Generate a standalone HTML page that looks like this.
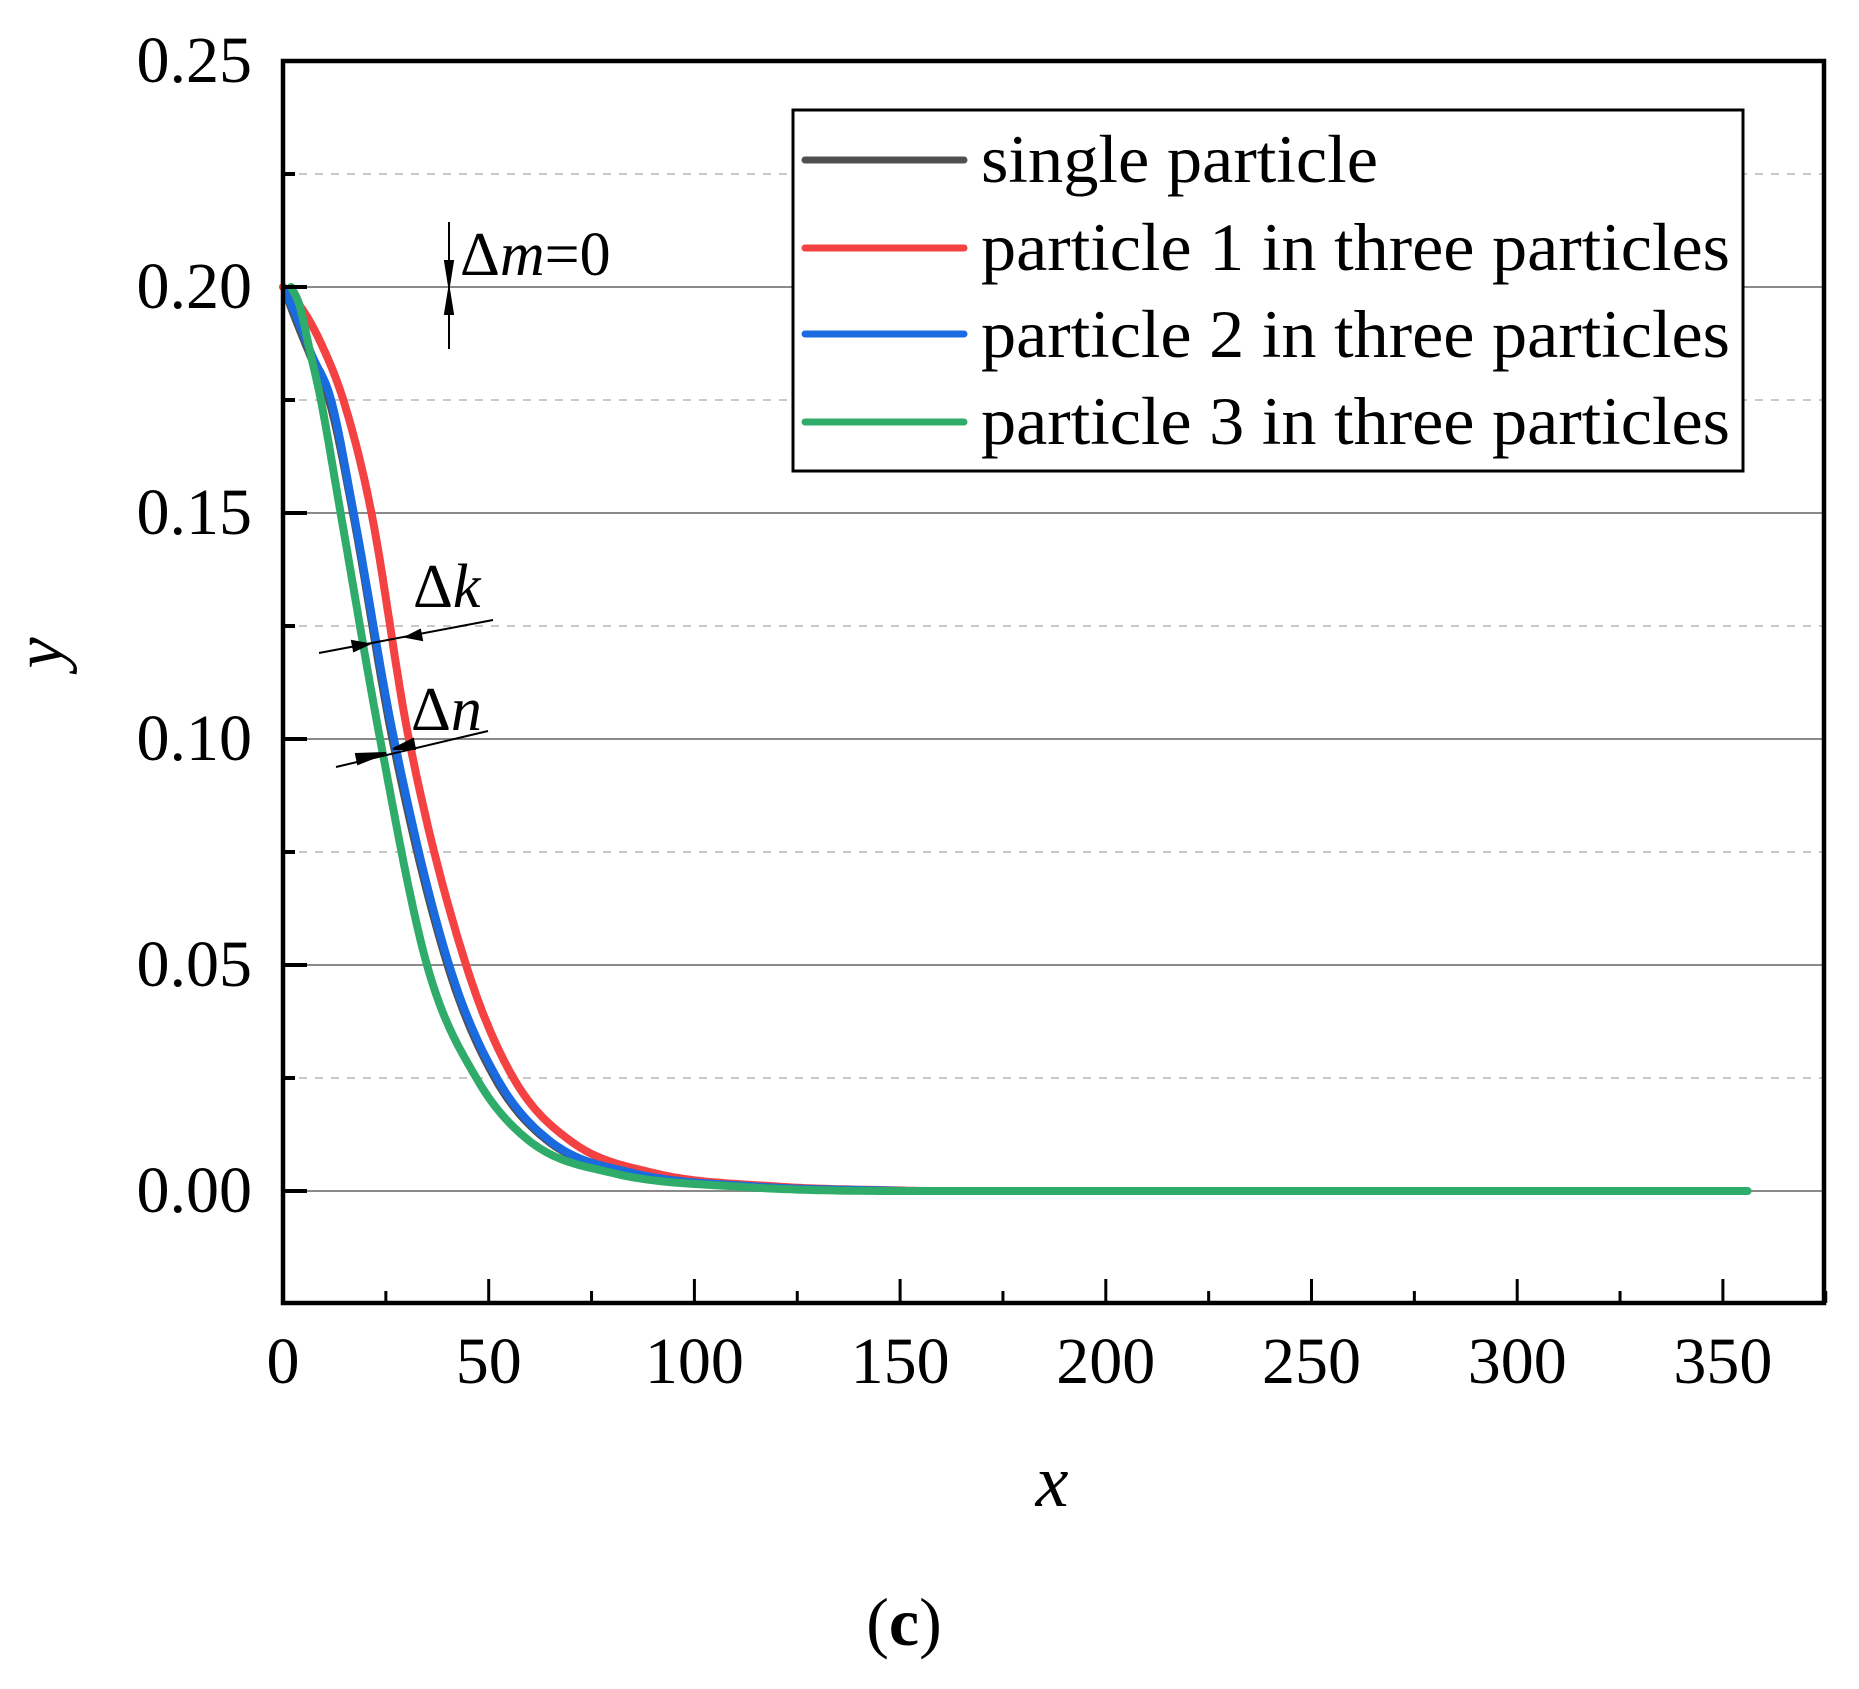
<!DOCTYPE html>
<html><head><meta charset="utf-8"><style>
html,body{margin:0;padding:0;background:#fff;}
svg text{font-family:"Liberation Serif",serif;fill:#000;}
</style></head><body>
<svg id="s" width="1859" height="1684" viewBox="0 0 1859 1684" xmlns="http://www.w3.org/2000/svg">
<g id="grid"></g>
<g id="curves" fill="none" stroke-width="8" stroke-linejoin="round" stroke-linecap="round"></g>
<rect x="283" y="61" width="1541" height="1242" fill="none" stroke="#000" stroke-width="4.5"/>
<g id="ticks" stroke="#000"></g>
<g id="labels" font-size="66"></g>
<g stroke="#000" stroke-width="2" fill="#000">
<line x1="449" y1="222" x2="449" y2="349"/>
<polygon points="445,261 453,261 449,286"/>
<polygon points="445,314 453,314 449,289"/>
<line x1="319" y1="653" x2="493" y2="620"/>
<polygon points="352,641 354,651 369,644"/>
<polygon points="420,630 422,640 406,637"/>
<line x1="336" y1="767" x2="488" y2="731"/>
<polygon points="356,754 358,764 386,753"/>
<polygon points="413,739 415,749 393,749"/>
</g>
<text x="460" y="275" font-size="62">Δ<tspan font-style="italic">m</tspan>=0</text>
<text x="413" y="607" font-size="62">Δ<tspan font-style="italic">k</tspan></text>
<text x="411" y="730" font-size="62">Δ<tspan font-style="italic">n</tspan></text>
<text x="62" y="653" font-size="70" font-style="italic" transform="rotate(-90 62 653)" text-anchor="middle">y</text>
<text x="1052" y="1506" font-size="74" font-style="italic" text-anchor="middle">x</text>
<text x="904" y="1645" font-size="68" text-anchor="middle">(<tspan font-weight="bold">c</tspan>)</text>
<rect x="793" y="110" width="950" height="361" fill="#fff" stroke="#000" stroke-width="3"/>
<g stroke-width="7" stroke-linecap="round">
<line x1="805" y1="160" x2="964" y2="160" stroke="#505050"/>
<line x1="805" y1="248" x2="964" y2="248" stroke="#f44142"/>
<line x1="805" y1="334" x2="964" y2="334" stroke="#1a6ae0"/>
<line x1="805" y1="422" x2="964" y2="422" stroke="#2fac6a"/>
</g>
<g font-size="68">
<text x="981" y="182" textLength="397" lengthAdjust="spacingAndGlyphs">single particle</text>
<text x="981" y="270" textLength="749" lengthAdjust="spacingAndGlyphs">particle 1 in three particles</text>
<text x="981" y="357" textLength="749" lengthAdjust="spacingAndGlyphs">particle 2 in three particles</text>
<text x="981" y="444" textLength="749" lengthAdjust="spacingAndGlyphs">particle 3 in three particles</text>
</g>
</svg>
<script>
(function(){
var NS="http://www.w3.org/2000/svg";
function X(v){return 283+v*4.114;}
function Y(v){return 1191-v*4520;}
function el(p,t,a){var e=document.createElementNS(NS,t);for(var k in a)e.setAttribute(k,a[k]);document.getElementById(p).appendChild(e);return e;}
for(var i=0;i<=4;i++){var v=i*0.05;el("grid","line",{x1:283,x2:1824,y1:Y(v),y2:Y(v),stroke:"#8a8a8a","stroke-width":2});}
for(var i=0;i<5;i++){var v=0.025+i*0.05;el("grid","line",{x1:283,x2:1824,y1:Y(v),y2:Y(v),stroke:"#c8c8c8","stroke-width":2,"stroke-dasharray":"8,8"});}
for(var i=0;i<=10;i++){var v=i*0.025;var L=(i%2==0)?24:12;el("ticks","line",{x1:283,x2:283+L,y1:Y(v),y2:Y(v),"stroke-width":4});}
for(var i=0;i<=5;i++){var t=el("labels","text",{x:252,y:Y(i*0.05)+21,"text-anchor":"end"});t.textContent=(i*0.05).toFixed(2);}
for(var i=0;i<=15;i++){var v=i*25;var L=(i%2==0)?24:12;el("ticks","line",{x1:X(v),x2:X(v),y1:1303,y2:1303-L,"stroke-width":3});}
for(var i=0;i<=7;i++){var t=el("labels","text",{x:X(i*50),y:1383,"text-anchor":"middle"});t.textContent=String(i*50);}
function path(pts){
 var n=pts.length,xs=pts.map(p=>p[0]),ys=pts.map(p=>p[1]),d=[],m=[];
 for(var i=0;i<n-1;i++)d.push((ys[i+1]-ys[i])/(xs[i+1]-xs[i]));
 m[0]=d[0];m[n-1]=d[n-2];
 for(var i=1;i<n-1;i++){m[i]=(d[i-1]*d[i]<=0)?0:(d[i-1]+d[i])/2;}
 for(var i=0;i<n-1;i++){if(d[i]==0){m[i]=0;m[i+1]=0;continue;}var a=m[i]/d[i],b=m[i+1]/d[i],s=a*a+b*b;if(s>9){var t=3/Math.sqrt(s);m[i]=t*a*d[i];m[i+1]=t*b*d[i];}}
 var out=[];
 for(var i=0;i<n-1;i++){var h=xs[i+1]-xs[i];
  for(var k=0;k<24;k++){var t=k/24,t2=t*t,t3=t2*t;
   var y=(2*t3-3*t2+1)*ys[i]+(t3-2*t2+t)*h*m[i]+(-2*t3+3*t2)*ys[i+1]+(t3-t2)*h*m[i+1];
   out.push(X(xs[i]+t*h).toFixed(1)+","+Y(Math.max(0,y)).toFixed(1));}}
 out.push(X(xs[n-1]).toFixed(1)+","+Y(ys[n-1]).toFixed(1));
 return "M"+out.join("L");
}
var gray=[[0.5,0.199],[3,0.193],[7,0.184],[11.5,0.174],[17,0.15],[26.6,0.10],[40,0.05],[51.5,0.025],[64.5,0.011],[84.5,0.004],[114,0.001],[150,0]];
var red=[[0,0.2],[4,0.196],[9,0.188],[15,0.174],[21.5,0.15],[30.6,0.10],[44.5,0.05],[56,0.025],[70,0.011],[90,0.004],[120,0.001],[155,0]];
var blue=[[0.5,0.199],[3,0.194],[7,0.185],[11.7,0.175],[17.2,0.15],[27,0.10],[40.4,0.05],[52,0.025],[65,0.011],[85,0.004],[115,0.001],[152,0]];
var green=[[2,0.2],[4,0.196],[6.5,0.186],[9.2,0.175],[14,0.15],[23.6,0.10],[35,0.05],[47,0.025],[60,0.011],[80,0.004],[110,0.001],[150,0],[356,0]];
el("curves","path",{d:path(gray),stroke:"#505050"});
el("curves","path",{d:path(red),stroke:"#f44142"});
el("curves","path",{d:path(blue),stroke:"#1a6ae0"});
el("curves","path",{d:path(green),stroke:"#2fac6a"});
})();
</script>
</body></html>
